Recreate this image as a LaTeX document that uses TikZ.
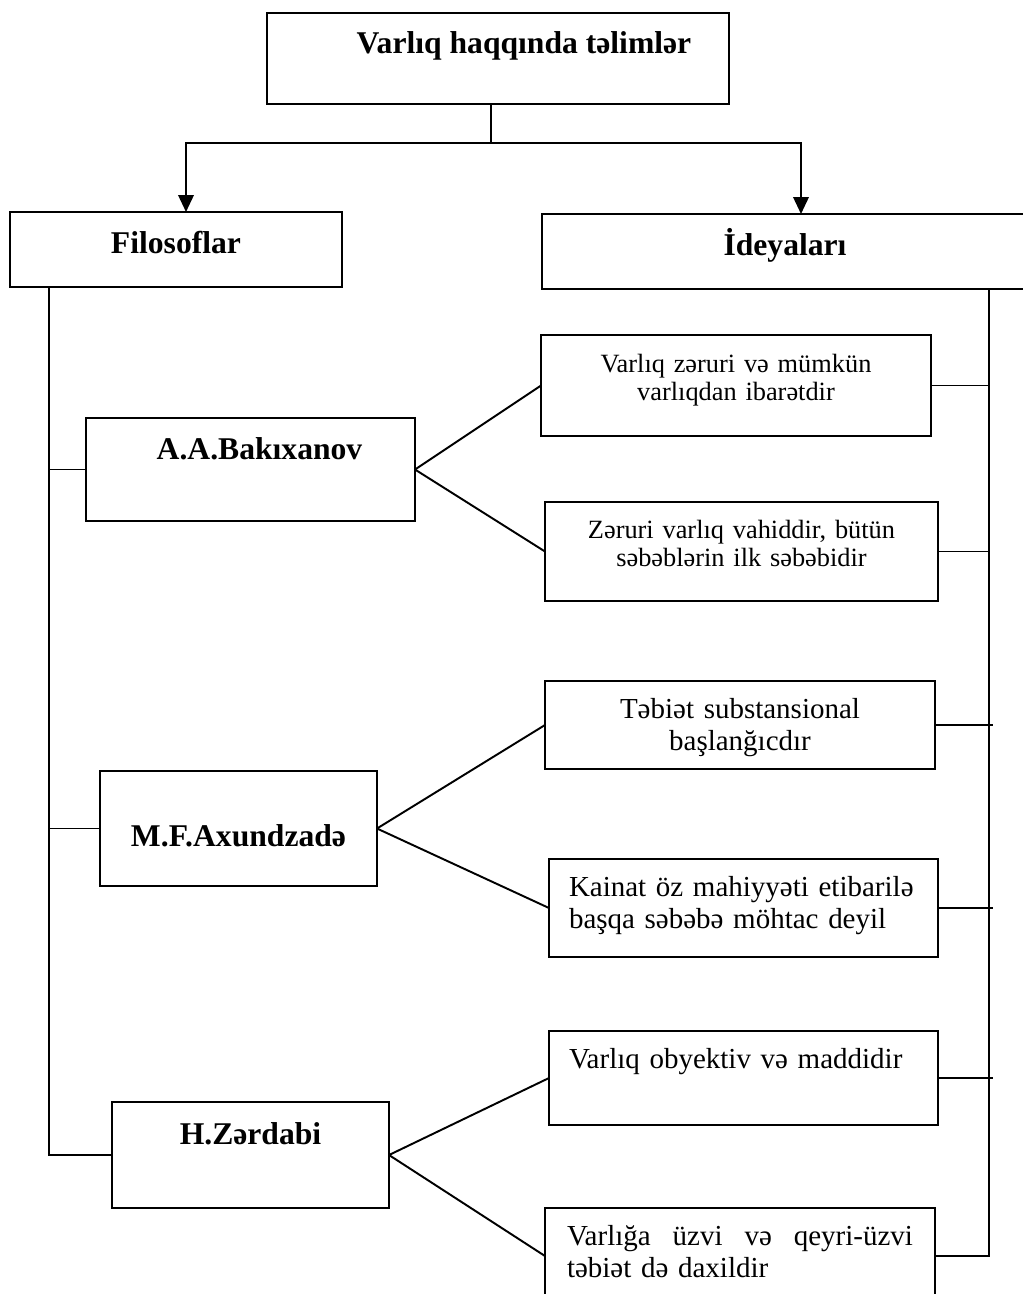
\documentclass[tikz,border=0pt]{standalone}
\usepackage{fontspec}
\setmainfont{Liberation Serif}
\usetikzlibrary{arrows.meta,positioning}

\begin{document}
\begin{tikzpicture}[
  box/.style={draw, line width=1.2pt, inner sep=0pt, outer sep=0pt},
  headbox/.style={box, font=\fontsize{18}{21}\selectfont\bfseries},
  smallbox/.style={box, align=center, font=\fontsize{15}{16}\selectfont},
  bigbox/.style={box, font=\fontsize{16.5}{18.3}\selectfont},
  link/.style={line width=1.1pt},
  arr/.style={line width=1.2pt, -{Triangle[length=0.34cm,width=0.31cm]}}]
  \useasboundingbox (0,0) rectangle (20.46,-25.88);
  % headings
  \node[headbox, minimum width=9.24cm, text height=0.8cm, text depth=1.02cm] (root) at (9.96,-1.17) {\hspace*{1.04cm}Varlıq haqqında təlimlər};
  \node[headbox, minimum width=6.64cm, text height=0.82cm, text depth=0.68cm, below=2.16cm of root, xshift=-6.44cm] (filo) {Filosoflar};
  \node[headbox, minimum width=9.72cm, text height=0.82cm, text depth=0.68cm, below=2.2cm of root, xshift=5.74cm] (ideas) {İdeyaları};
  % philosophers
  \node[headbox, minimum width=6.58cm, text height=0.82cm, text depth=1.24cm, below=2.62cm of filo, xshift=1.49cm] (bak) {\hspace*{0.36cm}A.A.Bakıxanov};
  \node[headbox, minimum width=5.54cm, text height=1.5cm, text depth=0.8cm, below=5cm of bak, xshift=-0.24cm] (axu) {M.F.Axundzadə};
  \node[headbox, minimum width=5.54cm, text height=0.84cm, text depth=1.28cm, below=4.32cm of axu, xshift=0.24cm] (zer) {H.Zərdabi};
  % ideas
  \node[smallbox, text width=7.8cm, text height=0.74cm, text depth=1.28cm, below=0.92cm of ideas, xshift=-0.98cm] (b1) {Varlıq zəruri və mümkün\\varlıqdan ibarətdir};
  \node[smallbox, text width=7.86cm, text height=0.72cm, text depth=1.26cm, below=1.32cm of b1, xshift=0.11cm] (b2) {Zəruri varlıq vahiddir, bütün\\səbəblərin ilk səbəbidir};
  \node[bigbox, align=center, text width=7.8cm, text height=0.74cm, text depth=1.02cm, below=1.6cm of b2, xshift=-0.03cm] (a1) {Təbiət substansional\\başlanğıcdır};
  \node[bigbox, align=left, text width=6.98cm, inner xsep=0.4cm, text height=0.74cm, text depth=1.22cm, below=1.8cm of a1, xshift=0.07cm] (a2) {Kainat öz mahiyyəti etibarilə\\başqa səbəbə möhtac deyil};
  \node[bigbox, align=left, text width=6.98cm, inner xsep=0.4cm, text height=0.74cm, text depth=1.14cm, below=1.48cm of a2] (z1) {Varlıq obyektiv və maddidir};
  \node[bigbox, align=left, text width=6.92cm, inner xsep=0.44cm, text height=0.74cm, text depth=1.18cm, below=1.66cm of z1, xshift=-0.07cm] (z2) {\hbox to 6.92cm{Varlığa\hfill üzvi\hfill və\hfill qeyri-üzvi}\\təbiət də daxildir};
  % split from the root
  \draw[link] ([xshift=-0.14cm]root.south) -- ++(0,-0.78) coordinate (split);
  \draw[arr] (split) -| ([xshift=0.2cm]filo.north);
  \draw[arr] (split) -| ([xshift=0.32cm]ideas.north);
  % spines
  \coordinate (lspine) at ([xshift=0.78cm]filo.south west);
  \coordinate (rspine) at ([xshift=8.94cm]ideas.south west);
  \draw[link] (lspine) |- (zer.west);
  \draw[link] (rspine) |- (z2.east);
  \foreach \f in {bak,axu} \draw[link] (\f.west) -- (\f.west -| lspine);
  \foreach \i in {b1,b2} \draw[link] (\i.east) -- (\i.east -| rspine);
  \foreach \i in {a1,a2,z1} \draw[link, shorten >=-0.08cm] (\i.east) -- (\i.east -| rspine);
  \foreach \p/\q in {bak/b1,bak/b2,axu/a1,axu/a2,zer/z1,zer/z2} \draw[link] (\p.east) -- (\q.west);
\end{tikzpicture}
\end{document}
